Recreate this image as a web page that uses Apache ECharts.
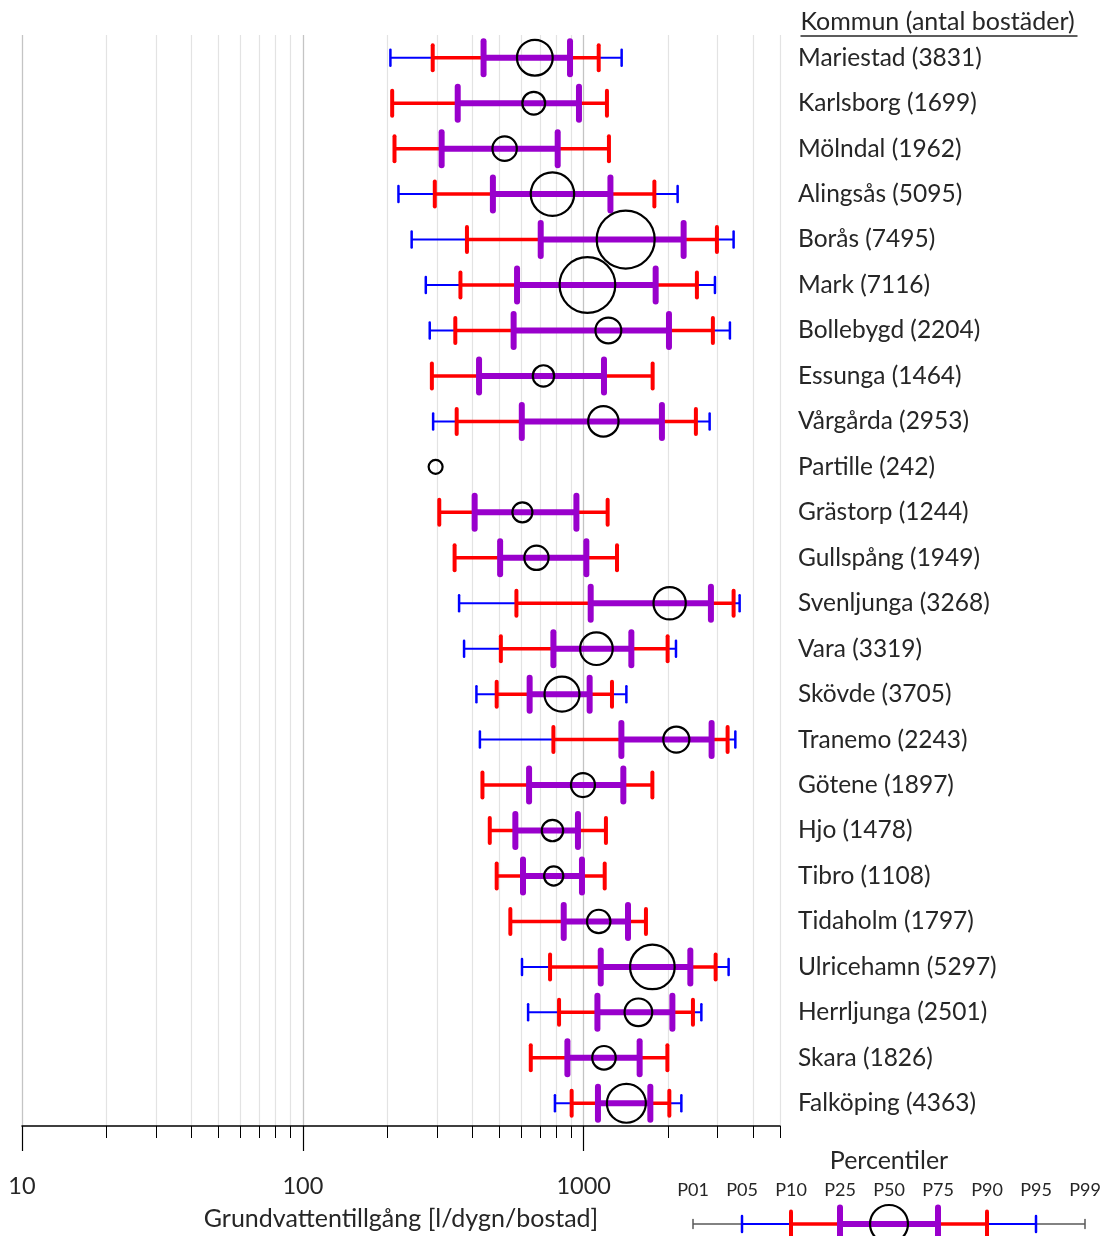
<!DOCTYPE html>
<html>
<head>
<meta charset="utf-8">
<script src="https://cdn.jsdelivr.net/npm/echarts@6/dist/echarts.min.js"></script>
<style>
  html, body { margin: 0; padding: 0; background: #ffffff; }
  #chart { width: 1104px; height: 1236px; }
</style>
</head>
<body>
<div id="chart"></div>
<script>
// Kommuner och antal bostäder (visas som etiketter till höger)
const kommuner = ['Mariestad', 'Karlsborg', 'Mölndal', 'Alingsås', 'Borås', 'Mark', 'Bollebygd',
  'Essunga', 'Vårgårda', 'Partille', 'Grästorp', 'Gullspång', 'Svenljunga', 'Vara', 'Skövde',
  'Tranemo', 'Götene', 'Hjo', 'Tibro', 'Tidaholm', 'Ulricehamn', 'Herrljunga', 'Skara', 'Falköping'];
const bostader = [3831, 1699, 1962, 5095, 7495, 7116, 2204, 1464, 2953, 242, 1244, 1949,
  3268, 3319, 3705, 2243, 1897, 1478, 1108, 1797, 5297, 2501, 1826, 4363];

// Percentiler för grundvattentillgång [l/dygn/bostad]
const p05 = [205, null, null, 219, 244, 274, 283, null, 291, null, null, null,
  360, 375, 415, 427, null, null, null, null, 603, 634, null, 790];
const p10 = [290, 208, 212, 295, 384, 364, 349, 288, 353, null, 306, 347,
  576, 507, 490, 780, 436, 463, 490, 548, 759, 817, 648, 906];
const p25 = [440, 356, 312, 475, 703, 579, 563, 424, 602, null, 409, 504,
  1059, 780, 642, 1362, 639, 571, 608, 849, 1150, 1119, 875, 1124];
const p50 = [670, 664, 523, 774, 1411, 1031, 1224, 719, 1175, 297, 605, 679,
  2023, 1110, 837, 2137, 994, 774, 782, 1131, 1756, 1566, 1181, 1419];
const p75 = [894, 962, 808, 1245, 2269, 1804, 2012, 1181, 1899, null, 942, 1022,
  2838, 1478, 1050, 2854, 1384, 954, 986, 1438, 2397, 2069, 1582, 1727];
const p90 = [1131, 1210, 1230, 1785, 2981, 2530, 2884, 1760, 2509, null, 1217, 1314,
  3418, 1990, 1261, 3254, 1756, 1200, 1188, 1666, 2950, 2449, 1986, 2018];
const p95 = [1365, null, null, 2160, 3418, 2933, 3316, null, 2808, null, null, null,
  3591, 2131, 1419, 3467, null, null, null, null, 3281, 2624, null, 2227];

// Axelns skalsteg
const majorTicks = [10, 100, 1000];
const minorTicks = [10, 20, 30, 40, 50, 60, 70, 80, 90, 100, 200, 300, 400, 500, 600, 700, 800, 900,
  1000, 2000, 3000, 4000, 5000];
const percentilNamn = ['P01', 'P05', 'P10', 'P25', 'P50', 'P75', 'P90', 'P95', 'P99'];

const FONT = 'Lato, "Open Sans", sans-serif';
const TEXT = '#262626';
const BLUE = '#0000ff', RED = '#ff0000', PURPLE = '#9900cc', BLACK = '#000000', GREY = '#595959';

const yLabels = kommuner.map((k, i) => k + ' (' + bostader[i] + ')');
const rows = kommuner.map((k, i) => [i, p05[i], p10[i], p25[i], p50[i], p75[i], p90[i], p95[i], bostader[i]]);

// Cirkelns diameter växer med antalet bostäder
function circleRadius(n) { return (14.5 + 0.00607 * n) / 2; }

function ok(v) { return v != null && isFinite(v); }

// Lägger till ett horisontellt intervall med ändstreck
function addRange(children, xa, xb, y, color, lw, tw, th) {
  children.push({ type: 'line', shape: { x1: xa, y1: y, x2: xb, y2: y },
    style: { stroke: color, lineWidth: lw } });
  [xa, xb].forEach(function (x) {
    children.push({ type: 'line', shape: { x1: x, y1: y - th / 2, x2: x, y2: y + th / 2 },
      style: { stroke: color, lineWidth: tw, lineCap: 'round' } });
  });
}

function renderRow(params, api) {
  const i = api.value(0);
  const v = [1, 2, 3, 4, 5, 6, 7].map(d => api.value(d));
  const n = api.value(8);
  const y = api.coord([10, i])[1];
  const X = val => api.coord([val, i])[0];
  const children = [];
  if (ok(v[0]) && ok(v[6])) addRange(children, X(v[0]), X(v[6]), y, BLUE, 2, 2.5, 16);
  if (ok(v[1]) && ok(v[5])) addRange(children, X(v[1]), X(v[5]), y, RED, 3.5, 4, 25);
  if (ok(v[2]) && ok(v[4])) addRange(children, X(v[2]), X(v[4]), y, PURPLE, 6, 6, 33);
  if (ok(v[3])) {
    children.push({ type: 'circle', shape: { cx: X(v[3]), cy: y, r: circleRadius(n) - 1 },
      style: { fill: 'none', stroke: BLACK, lineWidth: 2.2 } });
  }
  return { type: 'group', children: children };
}

// Förklaring: schematisk percentilstapel
function renderKey(params, api) {
  const y = api.coord([0, 0.5])[1];
  const X = k => api.coord([k, 0.5])[0];
  const children = [];
  addRange(children, X(0), X(8), y, GREY, 1.5, 1.5, 9);
  addRange(children, X(1), X(7), y, BLUE, 2, 2.5, 16);
  addRange(children, X(2), X(6), y, RED, 3.5, 4, 25);
  addRange(children, X(3), X(5), y, PURPLE, 6, 6, 33);
  children.push({ type: 'circle', shape: { cx: X(4), cy: y, r: 19 },
    style: { fill: 'none', stroke: BLACK, lineWidth: 2.2 } });
  return { type: 'group', children: children };
}

const chart = echarts.init(document.getElementById('chart'), null, { renderer: 'canvas' });

chart.setOption({
  backgroundColor: '#ffffff',
  animation: false,
  textStyle: { fontFamily: FONT },
  grid: [
    { left: 22, right: 324, top: 35, bottom: 110, outerBoundsMode: 'none', containLabel: false },
    { left: 693, right: 19, top: 1219, height: 10, outerBoundsMode: 'none', containLabel: false }
  ],
  xAxis: [
    {
      gridIndex: 0, type: 'log', logBase: 10, min: 10, max: 5000, position: 'bottom',
      axisLine: { show: true, onZero: false, lineStyle: { color: BLACK, width: 1.5 } },
      axisTick: { show: true, length: 12, customValues: minorTicks, lineStyle: { color: BLACK, width: 1 } },
      axisLabel: { show: false },
      splitLine: { show: true, lineStyle: { color: '#e3e3e3', width: 1.2 } },
      minorTick: { show: false }, minorSplitLine: { show: false }
    },
    {
      gridIndex: 0, type: 'log', logBase: 10, min: 10, max: 5000, position: 'bottom', offset: 0,
      axisLine: { show: false, onZero: false },
      axisTick: { show: true, length: 25, customValues: majorTicks, lineStyle: { color: BLACK, width: 1.2 } },
      axisLabel: { show: true, customValues: majorTicks, margin: 48, color: TEXT,
        fontSize: 23.5, fontFamily: FONT, formatter: v => String(Math.round(v)) },
      splitLine: { show: true, lineStyle: { color: '#c4c4c4', width: 1.2 } },
      name: 'Grundvattentillgång [l/dygn/bostad]',
      nameLocation: 'middle', nameGap: 80,
      nameTextStyle: { color: TEXT, fontSize: 25, fontFamily: FONT }
    },
    {
      gridIndex: 1, type: 'category', data: percentilNamn, position: 'top', boundaryGap: false,
      axisLine: { show: false }, axisTick: { show: false }, splitLine: { show: false },
      axisLabel: { show: true, interval: 0, margin: 20, color: TEXT, fontSize: 18, fontFamily: FONT },
      name: 'Percentiler', nameLocation: 'middle', nameGap: 46,
      nameTextStyle: { color: TEXT, fontSize: 25, fontFamily: FONT }
    }
  ],
  yAxis: [
    {
      gridIndex: 0, type: 'category', data: yLabels, inverse: true, position: 'right',
      axisLine: { show: false }, axisTick: { show: false }, splitLine: { show: false },
      axisLabel: { show: true, interval: 0, margin: 18, align: 'left', color: TEXT,
        fontSize: 24.5, fontFamily: FONT }
    },
    { gridIndex: 1, type: 'value', min: 0, max: 1, show: false }
  ],
  graphic: [
    {
      type: 'group', left: 798, top: 9,
      children: [
        { type: 'text', x: 0, y: 0, style: { text: 'Kommun (antal bostäder)', fill: TEXT,
          font: '25px ' + FONT } },
        { type: 'line', shape: { x1: 0, y1: 27, x2: 277, y2: 27 },
          style: { stroke: TEXT, lineWidth: 1.5 } }
      ]
    }
  ],
  series: [
    {
      type: 'custom', name: 'Percentiler', xAxisIndex: 0, yAxisIndex: 0,
      renderItem: renderRow, data: rows,
      encode: { x: [1, 2, 3, 4, 5, 6, 7], y: 0 },
      clip: false, silent: true, z: 5
    },
    {
      type: 'custom', name: 'Förklaring', xAxisIndex: 2, yAxisIndex: 1,
      renderItem: renderKey, data: [[0, 0.5]],
      encode: { x: 0, y: 1 },
      clip: false, silent: true, z: 5
    }
  ]
});
</script>
</body>
</html>
